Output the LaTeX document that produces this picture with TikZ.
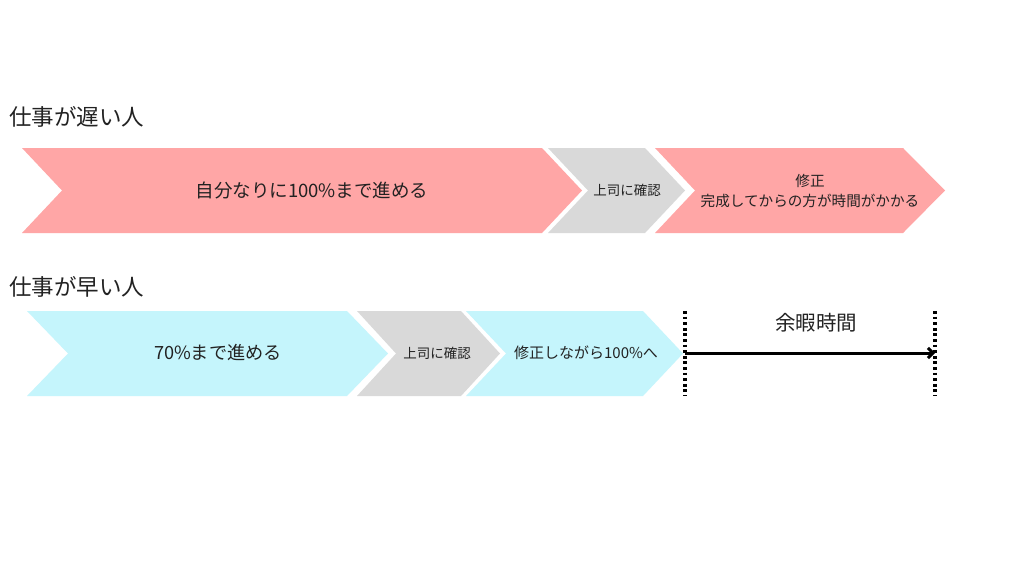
\documentclass[tikz,border=0pt]{standalone}
\usepackage{fontspec}
\setmainfont{Noto Sans CJK JP}
\usetikzlibrary{arrows.meta}
\definecolor{pinkc}{HTML}{FFA6A6}
\definecolor{greyc}{HTML}{D9D9D9}
\definecolor{cyanc}{HTML}{C5F5FC}
\definecolor{txt}{HTML}{222222}
\begin{document}
\begin{tikzpicture}[x=1pt,y=-1pt,
  lbl/.style={text=txt,inner sep=0pt,align=center},
  title/.style={text=txt,inner sep=0pt,anchor=west,font=\fontsize{22.5}{26}\selectfont},
  dots/.style={line width=3.2pt,dash pattern=on 2.8pt off 2.8pt}]
\useasboundingbox[fill=white] (0,0) rectangle (1024,576);
% titles
\node[title] (t1) at (9,117) {仕事が遅い人};
\node[title] (t2) at (9,287) {仕事が早い人};
% row 1 chevrons
\fill[pinkc] (22,148) -- (542,148) -- (582,190.5) -- (542,233) -- (22,233) -- (62,190.5) -- cycle;
\fill[greyc] (548,148) -- (645,148) -- (685,190.5) -- (645,233) -- (548,233) -- (588,190.5) -- cycle;
\fill[pinkc] (655,148) -- (903,148) -- (945,190.5) -- (903,233) -- (655,233) -- (695,190.5) -- cycle;
\node[lbl,font=\fontsize{18.5}{22}\selectfont] (a1) at (312,190) {自分なりに100\%まで進める};
\node[lbl,font=\fontsize{13.5}{16}\selectfont] (a2) at (627,190) {上司に確認};
\node[lbl,font=\fontsize{14.6}{20}\selectfont] (a3) at (810,191) {修正\\完成してからの方が時間がかかる};
% row 2 chevrons
\fill[cyanc] (27,311) -- (347,311) -- (388,353.5) -- (347,396) -- (27,396) -- (68,353.5) -- cycle;
\fill[greyc] (357,311) -- (461,311) -- (500,353.5) -- (461,396) -- (357,396) -- (396,353.5) -- cycle;
\fill[cyanc] (466,311) -- (643,311) -- (683,353.5) -- (643,396) -- (466,396) -- (506,353.5) -- cycle;
\node[lbl,font=\fontsize{18.2}{22}\selectfont] (b1) at (218,353) {70\%まで進める};
\node[lbl,font=\fontsize{13.5}{16}\selectfont] (b2) at (437,353) {上司に確認};
\node[lbl,font=\fontsize{15}{18}\selectfont] (b3) at (586,353) {修正しながら100\%へ};
% spare time
\coordinate (l1) at (685,311); \coordinate (l2) at (685,396);
\coordinate (r1) at (935,311); \coordinate (r2) at (935,396);
\draw[dots] (l1) -- (l2);
\draw[dots] (r1) -- (r2);
\coordinate (s) at (685,353); \coordinate (e) at (935,353);
\draw[line width=3pt,-{Straight Barb[length=5pt,width=10pt]}] (s) -- (e);
\node[lbl,font=\fontsize{20.5}{24}\selectfont] (c1) at (816,323) {余暇時間};
\end{tikzpicture}
\end{document}
